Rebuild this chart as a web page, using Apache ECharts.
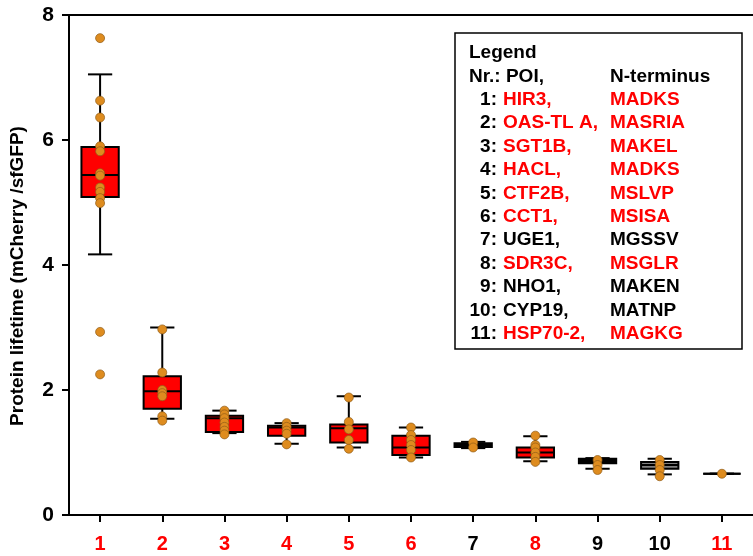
<!DOCTYPE html>
<html><head><meta charset="utf-8">
<script src="https://cdn.jsdelivr.net/npm/echarts@6/dist/echarts.min.js"></script>
<style>html,body{margin:0;padding:0;background:#fff}#c{width:753px;height:556px}</style>
</head><body><div id="c"></div>
<script>
// ---- data ----
var categories = ['1','2','3','4','5','6','7','8','9','10','11'];
var boxMin    = [4.17, 1.54, 1.31, 1.14, 1.08, 0.92, 1.07, 0.86, 0.74, 0.65, 0.66];
var boxQ1     = [5.09, 1.70, 1.33, 1.27, 1.16, 0.96, 1.09, 0.92, 0.83, 0.74, 0.66];
var boxMedian = [5.44, 1.98, 1.55, 1.40, 1.39, 1.08, 1.12, 1.00, 0.87, 0.80, 0.66];
var boxQ3     = [5.89, 2.22, 1.59, 1.43, 1.45, 1.27, 1.15, 1.08, 0.90, 0.85, 0.66];
var boxMax    = [7.05, 3.00, 1.67, 1.47, 1.90, 1.40, 1.17, 1.26, 0.91, 0.90, 0.66];
var points = [
  [7.63, 6.63, 6.36, 5.90, 5.82, 5.47, 5.43, 5.24, 5.17, 5.07, 4.99, 2.93, 2.25],
  [2.97, 2.28, 2.00, 1.95, 1.90, 1.58, 1.51],
  [1.67, 1.61, 1.55, 1.48, 1.41, 1.35, 1.29],
  [1.47, 1.41, 1.35, 1.30, 1.13],
  [1.88, 1.49, 1.37, 1.20, 1.06],
  [1.40, 1.28, 1.20, 1.12, 1.04, 0.92],
  [1.16, 1.08],
  [1.27, 1.12, 1.08, 1.00, 0.93, 0.85],
  [0.88, 0.80, 0.72],
  [0.88, 0.80, 0.72, 0.62],
  [0.66]
];
var yTicks = [0, 2, 4, 6, 8];
var yTitle = 'Protein lifetime (mCherry /sfGFP)';
var legendNr   = ['1:','2:','3:','4:','5:','6:','7:','8:','9:','10:','11:'];
var legendPOI  = ['HIR3,','OAS-TL A,','SGT1B,','HACL,','CTF2B,','CCT1,','UGE1,','SDR3C,','NHO1,','CYP19,','HSP70-2,'];
var legendNterm= ['MADKS','MASRIA','MAKEL','MADKS','MSLVP','MSISA','MGSSV','MSGLR','MAKEN','MATNP','MAGKG'];
var highlighted= [true,true,true,true,true,true,false,true,false,false,true];

// ---- styles ----
var RED = '#ff0000', BLACK = '#000000';
var boxFill = ['#ff0000','#ff0000','#ff0000','#ff0000','#ff0000','#ff0000','#000000','#ff0000','#000000','#808080','#808080'];
var FONT = '"Liberation Sans", Arial, Helvetica, sans-serif';

var boxData = categories.map(function(c, i){
  return [i, boxMin[i], boxQ1[i], boxMedian[i], boxQ3[i], boxMax[i]];
});
var pointData = [];
points.forEach(function(arr, i){ arr.forEach(function(v){ pointData.push([i, v]); }); });

function renderBox(params, api){
  var i = api.value(0);
  var band = api.size([1, 0])[0];
  var bw = band * 0.6, cw = band * 0.39;
  var x = api.coord([i, 0])[0];
  var yMin = api.coord([i, api.value(1)])[1];
  var yQ1  = api.coord([i, api.value(2)])[1];
  var yMed = api.coord([i, api.value(3)])[1];
  var yQ3  = api.coord([i, api.value(4)])[1];
  var yMax = api.coord([i, api.value(5)])[1];
  var ls = {stroke: '#000', lineWidth: 2};
  return {type: 'group', children: [
    {type:'line', shape:{x1:x, y1:yMax, x2:x, y2:yQ3}, style:ls},
    {type:'line', shape:{x1:x, y1:yQ1, x2:x, y2:yMin}, style:ls},
    {type:'line', shape:{x1:x-cw/2, y1:yMax, x2:x+cw/2, y2:yMax}, style:ls},
    {type:'line', shape:{x1:x-cw/2, y1:yMin, x2:x+cw/2, y2:yMin}, style:ls},
    {type:'rect', shape:{x:x-bw/2, y:yQ3, width:bw, height:yQ1-yQ3}, style:{fill:boxFill[i], stroke:'#000', lineWidth:2}},
    {type:'line', shape:{x1:x-bw/2, y1:yMed, x2:x+bw/2, y2:yMed}, style:ls}
  ]};
}

// legend + axis title graphics
var els = [];
els.push({type:'rect', shape:{x:455, y:33, width:287, height:316}, style:{fill:'#fff', stroke:'#000', lineWidth:1.5}, z:10});
function txt(x, y, s, color, align, size){
  return {type:'text', x:x, y:y, z:11, style:{text:s, fill:color, font:'bold ' + (size||19) + 'px ' + FONT,
    textAlign:align||'left', textVerticalAlign:'middle', align:align||'left', verticalAlign:'middle'}};
}
var y0 = 53, dy = 23.4;
els.push(txt(469, y0, 'Legend', BLACK));
els.push(txt(469, y0 + dy, 'Nr.: POI,', BLACK));
els.push(txt(610, y0 + dy, 'N-terminus', BLACK));
for (var k = 0; k < legendNr.length; k++) {
  var yy = y0 + dy * (k + 2);
  var col = highlighted[k] ? RED : BLACK;
  els.push(txt(497, yy, legendNr[k], BLACK, 'right'));
  els.push(txt(503, yy, legendPOI[k], col));
  els.push(txt(610, yy, legendNterm[k], col));
}
var title = txt(18, 276, yTitle, BLACK, 'center', 19);
title.rotation = Math.PI / 2;
els.push(title);

var chart = echarts.init(document.getElementById('c'), null, {renderer:'canvas'});
chart.setOption({
  animation: false,
  backgroundColor: '#fff',
  grid: {left: 69, top: 15, width: 696, height: 500, containLabel: false},
  xAxis: [{
    type: 'category', data: categories, boundaryGap: true,
    axisLine: {show: true, onZero: false, lineStyle: {color: '#000', width: 2}},
    axisTick: {show: true, alignWithLabel: true, length: 7, lineStyle: {color: '#000', width: 2}},
    axisLabel: {fontFamily: FONT, fontWeight: 'bold', fontSize: 20, margin: 19,
      color: function(v){ return highlighted[categories.indexOf(v)] ? RED : BLACK; }},
    splitLine: {show: false}
  }, {
    type: 'category', data: categories, position: 'top', boundaryGap: true,
    axisLine: {show: true, onZero: false, lineStyle: {color: '#000', width: 2}},
    axisTick: {show: false}, axisLabel: {show: false}, splitLine: {show: false}
  }],
  yAxis: {
    type: 'value', min: yTicks[0], max: yTicks[yTicks.length-1], interval: 2,
    axisLine: {show: true, lineStyle: {color: '#000', width: 2}},
    axisTick: {show: true, length: 7, lineStyle: {color: '#000', width: 2}},
    axisLabel: {fontFamily: FONT, fontWeight: 'bold', fontSize: 21, color: '#000', margin: 15},
    splitLine: {show: false}
  },
  series: [{
    type: 'custom', renderItem: renderBox, data: boxData, xAxisIndex: 0,
    encode: {x: 0, y: [1, 2, 3, 4, 5]}, z: 2, silent: true
  }, {
    type: 'scatter', data: pointData, xAxisIndex: 0, symbol: 'circle', symbolSize: 9, z: 3,
    itemStyle: {color: '#de8c1f', borderColor: '#8f5c18', borderWidth: 0.7, opacity: 1}
  }],
  graphic: els
});
</script>
</body></html>
